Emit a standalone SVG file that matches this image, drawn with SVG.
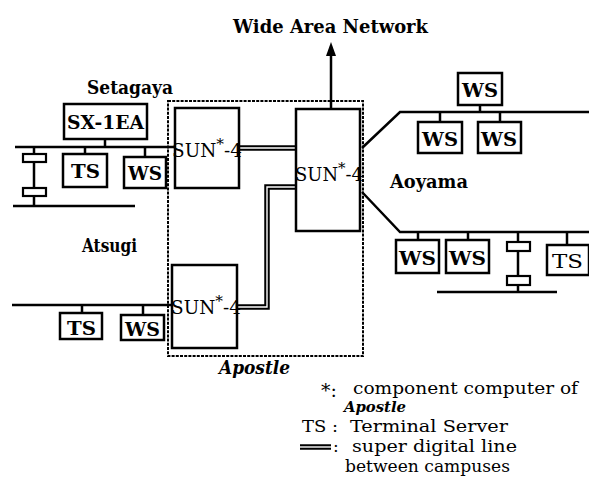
<svg xmlns="http://www.w3.org/2000/svg" width="589" height="480" viewBox="0 0 589 480">
<style>
  .ln{stroke:#000;stroke-width:2.5;fill:none}
  .box{stroke:#000;stroke-width:2.5;fill:#fff}
  .rep{stroke:#000;stroke-width:2.2;fill:#fff}
  .dash{stroke:#000;stroke-width:2;fill:none;stroke-dasharray:3 1.2}
  .dblo{stroke:#000;stroke-width:5.5;fill:none}
  .dbli{stroke:#fff;stroke-width:1.4;fill:none}
  .t{font-family:"DejaVu Serif","Liberation Serif",serif;fill:#000}
  .b{font-weight:bold}
  .lab{font-size:19px}
  .bx{font-size:19px}
  .sun{font-size:18px}
  .ast{font-size:15px}
  .leg{font-size:17px}
  .it{font-style:italic;font-weight:bold}
</style>

<!-- Apostle boundary -->
<g id="apostle">
  <rect class="dash" x="168" y="101" width="195" height="255"/>
  <text class="t it" x="219" y="374" font-size="19" textLength="71" lengthAdjust="spacingAndGlyphs">Apostle</text>
</g>

<!-- connectors -->
<g id="connectors">
  <!-- WAN arrow -->
  <line class="ln" x1="331" y1="109" x2="331" y2="52"/>
  <polygon points="331,42 336,56 326,56" fill="#000"/>
  <!-- Setagaya bus -->
  <line class="ln" x1="15" y1="147" x2="175" y2="147"/>
  <line class="ln" x1="105" y1="139" x2="105" y2="147"/>
  <line class="ln" x1="85" y1="147" x2="85" y2="154"/>
  <line class="ln" x1="145" y1="147" x2="145" y2="157"/>
  <line class="ln" x1="34" y1="147" x2="34" y2="206"/>
  <line class="ln" x1="13" y1="206" x2="135" y2="206"/>
  <!-- Atsugi bus -->
  <line class="ln" x1="12" y1="305" x2="172" y2="305"/>
  <line class="ln" x1="82" y1="305" x2="82" y2="313"/>
  <line class="ln" x1="143" y1="305" x2="143" y2="315"/>
  <!-- Aoyama upper -->
  <polyline class="ln" points="362,148 400,112 589,112"/>
  <line class="ln" x1="480" y1="105" x2="480" y2="112"/>
  <line class="ln" x1="440" y1="112" x2="440" y2="122"/>
  <line class="ln" x1="500" y1="112" x2="500" y2="122"/>
  <!-- Aoyama lower -->
  <polyline class="ln" points="362,192 400,232 589,232"/>
  <line class="ln" x1="418" y1="232" x2="418" y2="240"/>
  <line class="ln" x1="468" y1="232" x2="468" y2="240"/>
  <line class="ln" x1="567" y1="232" x2="567" y2="245"/>
  <line class="ln" x1="518" y1="232" x2="518" y2="292"/>
  <line class="ln" x1="437" y1="292" x2="557" y2="292"/>
  <!-- super digital lines -->
  <line class="dblo" x1="239" y1="148" x2="296" y2="148"/>
  <line class="dbli" x1="239" y1="148" x2="296" y2="148"/>
  <polyline class="dblo" points="296,187 267,187 267,307 237,307"/>
  <polyline class="dbli" points="296,187 267,187 267,307 237,307"/>
</g>

<!-- repeaters -->
<g id="rep-setagaya">
  <rect class="rep" x="23" y="154" width="23" height="8"/>
  <rect class="rep" x="23" y="188" width="23" height="8"/>
</g>
<g id="rep-aoyama">
  <rect class="rep" x="507" y="242" width="23" height="9"/>
  <rect class="rep" x="507" y="276" width="23" height="9"/>
</g>

<!-- Setagaya -->
<g id="sx1ea">
  <rect class="box" x="64" y="104" width="83" height="35"/>
  <text class="t b bx" x="67" y="129" textLength="77" lengthAdjust="spacingAndGlyphs">SX-1EA</text>
</g>
<g id="ts-setagaya">
  <rect class="box" x="63" y="154" width="44" height="33"/>
  <text class="t b bx" x="71" y="178" textLength="29" lengthAdjust="spacingAndGlyphs">TS</text>
</g>
<g id="ws-setagaya">
  <rect class="box" x="124" y="157" width="42" height="31"/>
  <text class="t b bx" x="128" y="180" textLength="34" lengthAdjust="spacingAndGlyphs">WS</text>
</g>

<!-- SUN-4 nodes -->
<g id="sun-setagaya">
  <rect class="box" x="175" y="108" width="64" height="80"/>
  <text class="t sun" x="172" y="157" textLength="70" lengthAdjust="spacingAndGlyphs">SUN<tspan class="ast" dy="-8">*</tspan><tspan dy="8">-4</tspan></text>
</g>
<g id="sun-aoyama">
  <rect class="box" x="296" y="109" width="64" height="122"/>
  <text class="t sun" x="295" y="181" textLength="68" lengthAdjust="spacingAndGlyphs">SUN<tspan class="ast" dy="-8">*</tspan><tspan dy="8">-4</tspan></text>
</g>
<g id="sun-atsugi">
  <rect class="box" x="172" y="265" width="65" height="83"/>
  <text class="t sun" x="171" y="314" textLength="70" lengthAdjust="spacingAndGlyphs">SUN<tspan class="ast" dy="-8">*</tspan><tspan dy="8">-4</tspan></text>
</g>

<!-- Atsugi -->
<g id="ts-atsugi">
  <rect class="box" x="60" y="313" width="42" height="26"/>
  <text class="t b bx" x="67" y="335" textLength="29" lengthAdjust="spacingAndGlyphs">TS</text>
</g>
<g id="ws-atsugi">
  <rect class="box" x="121" y="315" width="43" height="25"/>
  <text class="t b bx" x="125" y="336" textLength="35" lengthAdjust="spacingAndGlyphs">WS</text>
</g>

<!-- Aoyama -->
<g id="ws-a1">
  <rect class="box" x="458" y="73" width="44" height="32"/>
  <text class="t b bx" x="462" y="97" textLength="36" lengthAdjust="spacingAndGlyphs">WS</text>
</g>
<g id="ws-a2">
  <rect class="box" x="418" y="122" width="44" height="31"/>
  <text class="t b bx" x="422" y="146" textLength="36" lengthAdjust="spacingAndGlyphs">WS</text>
</g>
<g id="ws-a3">
  <rect class="box" x="478" y="122" width="43" height="31"/>
  <text class="t b bx" x="481" y="146" textLength="36" lengthAdjust="spacingAndGlyphs">WS</text>
</g>
<g id="ws-a4">
  <rect class="box" x="396" y="240" width="43" height="33"/>
  <text class="t b bx" x="399" y="265" textLength="37" lengthAdjust="spacingAndGlyphs">WS</text>
</g>
<g id="ws-a5">
  <rect class="box" x="446" y="240" width="43" height="33"/>
  <text class="t b bx" x="449" y="265" textLength="37" lengthAdjust="spacingAndGlyphs">WS</text>
</g>
<g id="ts-a6">
  <rect class="box" x="547" y="245" width="42" height="30"/>
  <text class="t bx" x="552" y="268" textLength="31" lengthAdjust="spacingAndGlyphs">TS</text>
</g>

<!-- labels -->
<g id="labels">
  <text class="t b lab" x="233" y="33" textLength="195" lengthAdjust="spacingAndGlyphs">Wide Area Network</text>
  <text class="t b lab" x="87" y="94" textLength="86" lengthAdjust="spacingAndGlyphs">Setagaya</text>
  <text class="t b lab" x="82" y="252" textLength="55" lengthAdjust="spacingAndGlyphs">Atsugi</text>
  <text class="t b lab" x="390" y="188" textLength="78" lengthAdjust="spacingAndGlyphs">Aoyama</text>
</g>

<!-- legend -->
<g id="legend">
  <text class="t" x="321" y="397" font-size="19">*:</text>
  <text class="t leg" x="353" y="394" textLength="225" lengthAdjust="spacingAndGlyphs">component computer of</text>
  <text class="t it" x="344" y="412" font-size="15" textLength="62" lengthAdjust="spacingAndGlyphs">Apostle</text>
  <text class="t leg" x="302" y="432" textLength="36" lengthAdjust="spacingAndGlyphs">TS :</text>
  <text class="t leg" x="350" y="432" textLength="158" lengthAdjust="spacingAndGlyphs">Terminal Server</text>
  <line class="dblo" x1="300" y1="447" x2="331" y2="447"/>
  <line class="dbli" x1="300" y1="447" x2="331" y2="447"/>
  <text class="t leg" x="333" y="452">:</text>
  <text class="t leg" x="352" y="452" textLength="165" lengthAdjust="spacingAndGlyphs">super digital line</text>
  <text class="t leg" x="345" y="472" textLength="165" lengthAdjust="spacingAndGlyphs">between campuses</text>
</g>
</svg>
